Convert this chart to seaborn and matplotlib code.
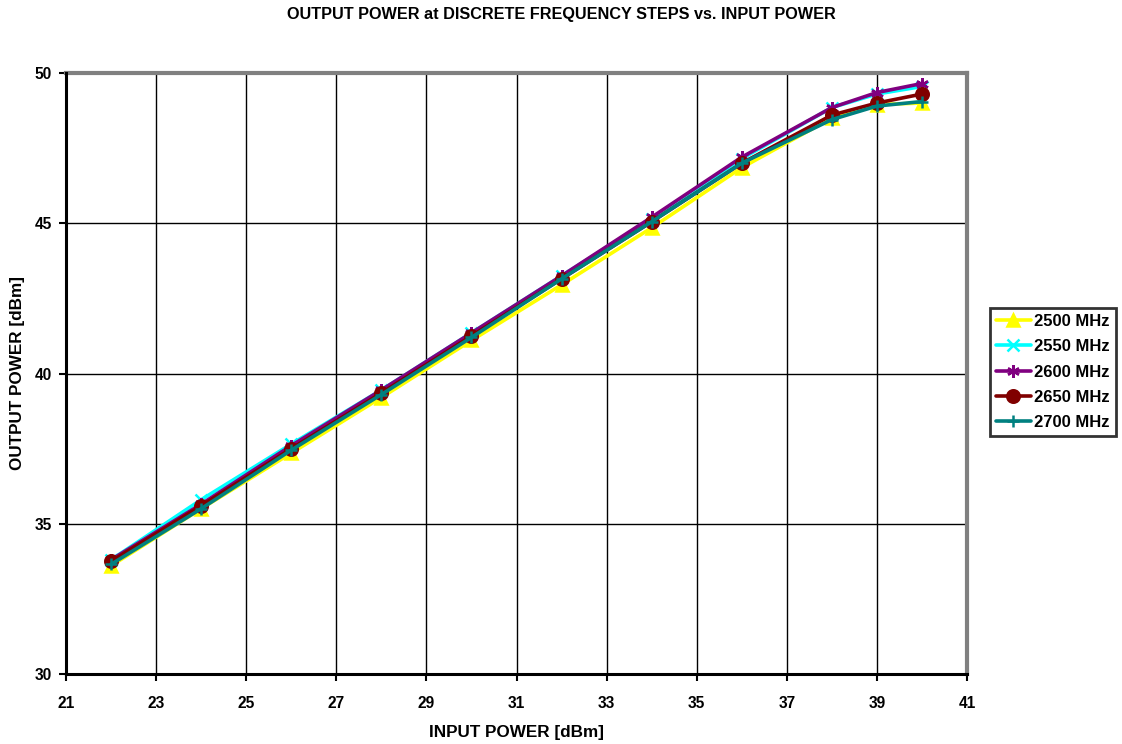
import numpy as np
import pandas as pd
import matplotlib
matplotlib.use("Agg")
import matplotlib.pyplot as plt
from matplotlib.lines import Line2D
import seaborn as sns

input_power = [22, 24, 26, 28, 30, 32, 34, 36, 38, 39, 40]
p2500 = [33.6, 35.5, 37.35, 39.2, 41.1, 42.95, 44.85, 46.85, 48.5, 48.95, 49.0]
p2550 = [33.8, 35.8, 37.65, 39.45, 41.35, 43.25, 45.15, 47.15, 48.85, 49.3, 49.55]
p2600 = [33.8, 35.65, 37.6, 39.45, 41.35, 43.25, 45.2, 47.2, 48.85, 49.35, 49.65]
p2650 = [33.75, 35.6, 37.5, 39.35, 41.25, 43.15, 45.05, 47.0, 48.6, 49.0, 49.3]
p2700 = [33.65, 35.5, 37.45, 39.3, 41.2, 43.15, 45.05, 47.0, 48.45, 48.9, 49.05]

series_names = ["2500 MHz", "2550 MHz", "2600 MHz", "2650 MHz", "2700 MHz"]
series_vals = [p2500, p2550, p2600, p2650, p2700]
colors = ["#FFFF00", "#00FFFF", "#800080", "#800000", "#008080"]
markers = ["^", "x", (6, 2, 0), "o", "+"]

x_ticks = [21, 23, 25, 27, 29, 31, 33, 35, 37, 39, 41]
y_ticks = [30, 35, 40, 45, 50]

sns.set_theme(style="white")
plt.rcParams['font.family'] = ['Liberation Sans', 'DejaVu Sans']
plt.rcParams['text.color'] = 'black'
plt.rcParams['axes.labelcolor'] = 'black'
plt.rcParams['xtick.color'] = 'black'
plt.rcParams['ytick.color'] = 'black'

fig = plt.figure(figsize=(11.22, 7.44), dpi=100)
ax = fig.add_axes([66 / 1122, 1 - 674 / 744, (967 - 66) / 1122, (674 - 73) / 744])

handles = []
for i, (name, vals, c, m) in enumerate(zip(series_names, series_vals, colors, markers)):
    df = pd.DataFrame({"Input": input_power, "Output": vals})
    sns.lineplot(data=df, x="Input", y="Output", color=c, marker=m,
                 markersize=9, markeredgewidth=1.8, markeredgecolor=c,
                 markerfacecolor=c, linewidth=2.6, ax=ax, zorder=3 + i)
    handles.append(Line2D([], [], color=c, marker=m, markersize=9,
                          markeredgewidth=1.8, markeredgecolor=c,
                          markerfacecolor=c, linewidth=2.6))

ax.set_xlim(21, 41)
ax.set_ylim(30, 50)
ax.set_xticks(x_ticks)
ax.set_yticks(y_ticks)
ax.grid(True, color="black", linewidth=1.0)
ax.set_axisbelow(True)
for s in ["top", "right"]:
    ax.spines[s].set_color("#808080")
    ax.spines[s].set_linewidth(3)
for s in ["left", "bottom"]:
    ax.spines[s].set_color("black")
    ax.spines[s].set_linewidth(2.2)
    ax.spines[s].set_zorder(10)
ax.tick_params(axis="both", which="major", direction="out", length=5, width=1.5,
               color="black", labelsize=11.2, bottom=True, left=True)
ax.tick_params(axis="x", pad=11)
ax.tick_params(axis="y", pad=5)
for lab in ax.get_xticklabels() + ax.get_yticklabels():
    lab.set_fontweight("bold")

ax.set_xlabel("INPUT POWER [dBm]", fontsize=12.3, fontweight="bold", labelpad=10)
ax.set_ylabel("OUTPUT POWER [dBm]", fontsize=12.3, fontweight="bold", labelpad=7)
fig.suptitle("OUTPUT POWER at DISCRETE FREQUENCY STEPS vs. INPUT POWER",
             x=0.5, y=1 - 14 / 744, va="center", fontsize=11.7, fontweight="bold")

leg = ax.legend(handles, series_names, loc="upper left",
                bbox_to_anchor=(990 / 1122, 1 - 308 / 744),
                bbox_transform=fig.transFigure,
                frameon=True, fancybox=False, edgecolor="black",
                prop={"weight": "bold", "size": 12},
                handlelength=2.1, handletextpad=0.2, borderpad=0.35,
                labelspacing=0.62, borderaxespad=0)
leg.get_frame().set_linewidth(2)

fig.savefig("out.png", dpi=100, facecolor="white")
